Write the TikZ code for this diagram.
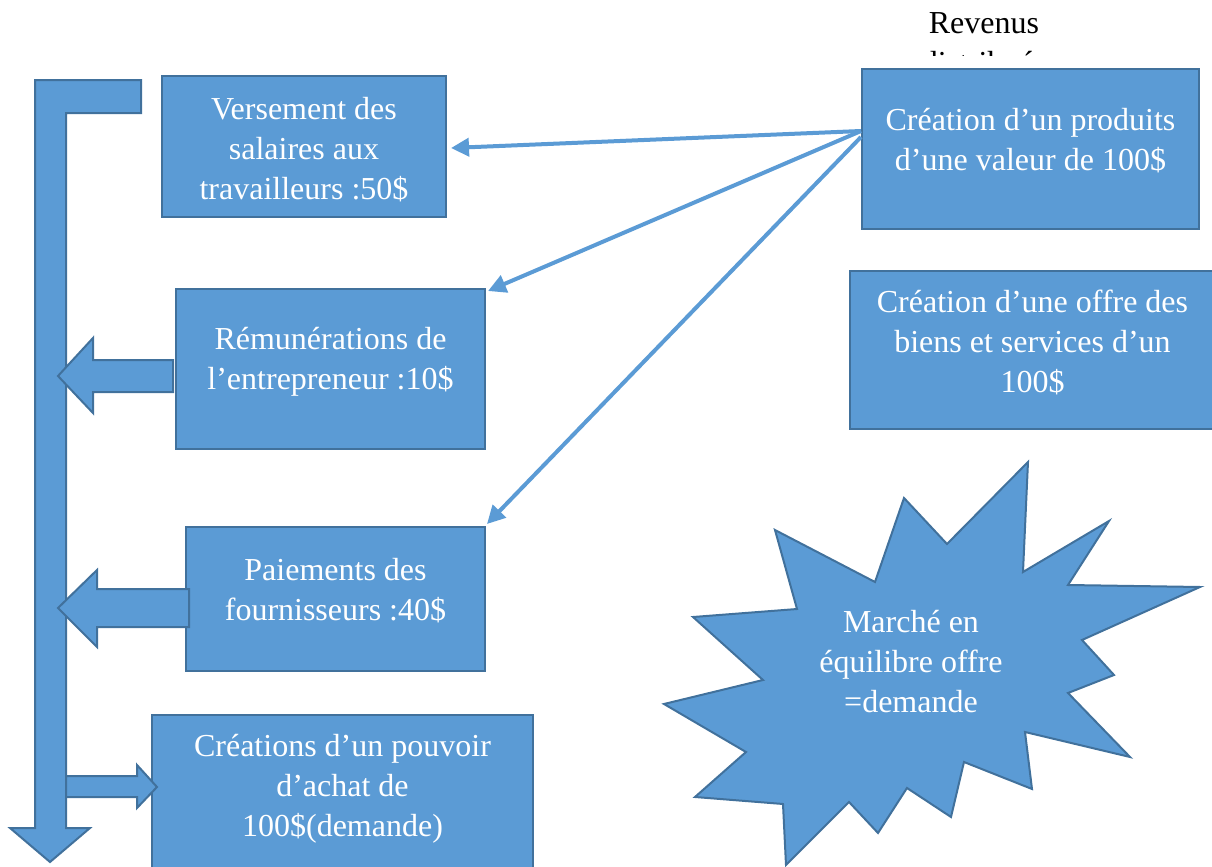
\documentclass[tikz,border=0pt]{standalone}
\usepackage{fontspec}
\setmainfont{Liberation Serif}
\usetikzlibrary{positioning,calc,arrows.meta}
\definecolor{fluxfill}{HTML}{5B9BD5}
\definecolor{fluxline}{HTML}{41719C}
\tikzset{
    flux box/.style={
        rectangle, draw=fluxline, fill=fluxfill,
        line width=1pt, inner sep=0pt
    },
    flux text/.style={
        text=white, align=center, inner sep=0pt,
        font=\fontsize{16}{20}\selectfont
    },
    block arrow/.style={
        draw=fluxline, fill=fluxfill,
        line width=1pt, line join=miter
    },
    flux arrow/.style={
        draw=fluxfill, line width=2pt,
        -{Triangle[length=9pt,width=9pt]}
    }
}

\begin{document}
\begin{tikzpicture}[x=0.5pt,y=-0.5pt]
    \useasboundingbox (0,0) rectangle (1212,867);
    \clip (0,0) rectangle (1212,867);

    % boxes
    \node[flux box, minimum width=142pt, minimum height=70.5pt] (vers) at (304,146.5) {};
    \node[flux box, minimum width=154.5pt, minimum height=80pt] (remu) at (330.5,369) {};
    \node[flux box, minimum width=149.5pt, minimum height=72pt] (paie) at (335.5,599) {};
    \node[flux box, minimum width=190.5pt, minimum height=82.5pt] (pouv) at (342.5,797.5) {};
    \node[flux box, minimum width=168.5pt, minimum height=80pt] (prod) at (1030.5,149) {};
    \node[flux box, minimum width=182.5pt, minimum height=79pt] (offre) at (1032.5,350) {};

    \node[flux text, below=11pt of vers.north] (versT) {Versement des\\salaires aux\\travailleurs :50\$};
    \node[flux text, below=19.5pt of remu.north] (remuT) {Rémunérations de\\l’entrepreneur :10\$};
    \node[flux text, below=16pt of paie.north] (paieT) {Paiements des\\fournisseurs :40\$};
    \node[flux text, below=10pt of pouv.north] (pouvT) {Créations d’un pouvoir\\d’achat de\\100\$(demande)};
    \node[flux text, below=20pt of prod.north] (prodT) {Création d’un produits\\d’une valeur de 100\$};
    \node[flux text, below=10pt of offre.north] (offreT) {Création d’une offre des\\biens et services d’un\\100\$};

    % revenus (cut off)
    \begin{scope}
        \clip (850,0) rectangle (1120,55);
        \node[align=center, inner sep=0pt, font=\fontsize{16}{20}\selectfont,
            anchor=north] (reve) at (984,12) {Revenus\\distribués};
    \end{scope}

    % big bent arrow
    \draw[block arrow] (35,80) -- (141,80) -- (141,113) -- (66,113) -- (66,828)
        -- (90,828) -- (50,862) -- (10,828) -- (35,828) -- cycle;

    % small block arrows
    \draw[block arrow] (173,360) -- (93,360) -- (93,338) -- (58,376) -- (93,413)
        -- (93,392) -- (173,392) -- cycle;
    \draw[block arrow] (189,589) -- (97,589) -- (97,570) -- (58,608) -- (97,647)
        -- (97,627) -- (189,627) -- cycle;
    \draw[block arrow] (66,776) -- (137,776) -- (137,765) -- (157,787) -- (137,808)
        -- (137,797) -- (66,797) -- cycle;

    % flux from the product
    \coordinate (src) at ($(prod.west)+(0,-18)$);
    \draw[flux arrow] (src) -- ($(vers.east)+(4,1.5)$);
    \draw[flux arrow] (src) -- ($(remu.north east)+(2,3)$);
    \draw[flux arrow] ($(src)+(0,6)$) -- ($(paie.north east)+(1,-2)$);

    % market
    \draw[block arrow] (1028,462) -- (1023,572) -- (1109,521) -- (1068,585) -- (1200,587)
        -- (1082,640) -- (1114,675) -- (1068,693) -- (1130,757) -- (1025,732)
        -- (1032,789) -- (964,762) -- (951,817) -- (907,788) -- (878,833)
        -- (849,802) -- (786,865) -- (783,804) -- (695,797) -- (746,752)
        -- (664,704) -- (763,680) -- (693,617) -- (797,609) -- (775,530)
        -- (875,582) -- (904,498) -- (947,544) -- cycle;
    \node[flux text] (marche) at (911,662) {Marché en\\équilibre offre\\=demande};
\end{tikzpicture}
\end{document}
